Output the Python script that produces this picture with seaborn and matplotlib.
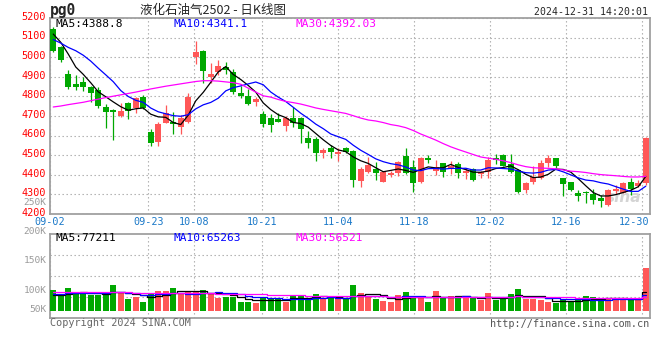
import numpy as np
import pandas as pd
import matplotlib
matplotlib.use("Agg")
import matplotlib.pyplot as plt
import matplotlib.transforms as mtrans
import seaborn as sns

# ---------------- data ----------------
holidays = ["2024-09-16", "2024-09-17", "2024-10-01", "2024-10-02",
            "2024-10-03", "2024-10-04", "2024-10-07"]

open_ = [5144, 5052, 4914, 4863, 4874, 4846, 4833, 4748, 4731, 4700,
         4765, 4743, 4799, 4620, 4569, 4666, 4671, 4646, 4668, 5003,
         5032, 4901, 4923, 4952, 4923, 4819, 4802, 4773, 4710, 4692,
         4683, 4649, 4692, 4692, 4586, 4581, 4513, 4535, 4506, 4535,
         4521, 4370, 4416, 4428, 4365, 4399, 4408, 4496, 4438, 4365,
         4484, 4420, 4459, 4428, 4453, 4411, 4428, 4402, 4416, 4484,
         4501, 4453, 4425, 4323, 4365, 4382, 4462, 4484, 4382, 4362,
         4309, 4314, 4300, 4280, 4246, 4317, 4309, 4362, 4345, 4360]
high = [5152, 5055, 4936, 4909, 4900, 4853, 4846, 4760, 4736, 4765,
        4773, 4795, 4809, 4634, 4671, 4756, 4719, 4705, 4819, 5083,
        5035, 4969, 4986, 4974, 4938, 4853, 4836, 4799, 4727, 4710,
        4714, 4700, 4748, 4697, 4623, 4595, 4538, 4552, 4538, 4544,
        4527, 4442, 4489, 4467, 4421, 4421, 4470, 4535, 4476, 4490,
        4501, 4477, 4462, 4470, 4464, 4436, 4433, 4421, 4493, 4506,
        4506, 4506, 4428, 4362, 4445, 4476, 4501, 4486, 4384, 4365,
        4323, 4319, 4326, 4297, 4326, 4348, 4365, 4382, 4374, 4595]
low = [5025, 4978, 4840, 4833, 4828, 4773, 4743, 4640, 4578, 4697,
       4685, 4717, 4734, 4549, 4549, 4663, 4608, 4608, 4663, 4964,
       4870, 4867, 4909, 4913, 4812, 4790, 4756, 4753, 4646, 4620,
       4668, 4624, 4646, 4561, 4535, 4472, 4484, 4484, 4472, 4513,
       4336, 4336, 4408, 4374, 4362, 4387, 4394, 4404, 4311, 4357,
       4460, 4400, 4391, 4402, 4382, 4377, 4370, 4382, 4385, 4455,
       4447, 4411, 4309, 4309, 4355, 4377, 4440, 4433, 4294, 4319,
       4268, 4255, 4251, 4237, 4241, 4302, 4305, 4297, 4336, 4348]
close = [5030, 4984, 4848, 4850, 4850, 4816, 4753, 4722, 4719, 4727,
         4726, 4790, 4743, 4560, 4659, 4714, 4657, 4692, 4799, 5025,
         4931, 4913, 4957, 4935, 4824, 4802, 4761, 4787, 4659, 4654,
         4671, 4688, 4663, 4632, 4561, 4510, 4527, 4518, 4518, 4518,
         4374, 4430, 4450, 4408, 4416, 4408, 4467, 4411, 4360, 4488,
         4476, 4440, 4416, 4445, 4411, 4421, 4374, 4413, 4476, 4476,
         4447, 4416, 4314, 4360, 4391, 4462, 4486, 4445, 4353, 4323,
         4294, 4305, 4272, 4266, 4323, 4328, 4360, 4328, 4357, 4586]
volume_k = [87, 70, 97, 70, 73, 66, 66, 73, 108, 73,
            49, 59, 38, 76, 84, 84, 97, 70, 77, 77,
            87, 70, 55, 59, 59, 38, 38, 34, 59, 49,
            55, 38, 62, 62, 55, 70, 55, 52, 49, 49,
            108, 76, 62, 49, 41, 38, 66, 80, 56, 56,
            38, 83, 56, 62, 62, 52, 52, 45, 76, 45,
            48, 70, 91, 49, 49, 45, 38, 34, 45, 38,
            45, 62, 56, 52, 52, 52, 52, 49, 52, 181]

# moving-average values at the start of the window (earlier history not shown)
ma5_lead = [5118, 5076, 5016, 4950]
ma10_lead = [5090, 5072, 5050, 5033, 5010, 4980, 4944, 4910, 4875]
ma30_lead = [4746, 4751, 4758, 4764, 4770, 4778, 4786, 4794, 4801, 4808,
             4815, 4822, 4830, 4838, 4845, 4852, 4858, 4864, 4870, 4876,
             4880, 4880, 4878, 4874, 4870, 4862, 4842, 4822, 4803]
vma5_lead = [66, 67, 70, 73]
vma10_lead = [72, 72, 73, 73, 74, 74, 75, 76, 77]
vma30_lead = [80, 80, 79, 79, 79, 78, 78, 78, 77, 77, 77, 76, 76, 76, 75,
              75, 75, 74, 74, 74, 73, 73, 72, 72, 71, 71, 70, 70, 69]

tick_labels = ["09-02", "09-23", "10-08", "10-21", "11-04",
               "11-18", "12-02", "12-16", "12-30"]
price_ticks = list(range(4200, 5201, 100))

# ---------------- prep ----------------
dates = pd.bdate_range("2024-09-02", "2024-12-31")
dates = dates[~dates.isin(pd.to_datetime(holidays))]
mmdd = list(dates.strftime("%m-%d"))

n = len(close)
x = np.arange(n)
O = np.array(open_, float); Hh = np.array(high, float)
L = np.array(low, float); C = np.array(close, float)
V = np.array(volume_k, float) * 1000

RED, GREEN = "#ff5757", "#00a800"
colors = np.where(C >= O, RED, GREEN)

df = pd.DataFrame({"x": x, "close": C, "vol": V})
def ma(series, w, lead):
    m = series.rolling(w).mean().to_numpy()
    m[:len(lead)] = lead
    return m
df["ma5"] = ma(df["close"], 5, ma5_lead)
df["ma10"] = ma(df["close"], 10, ma10_lead)
df["ma30"] = ma(df["close"], 30, ma30_lead)
df["vma5"] = ma(df["vol"], 5, np.array(vma5_lead) * 1000)
df["vma10"] = ma(df["vol"], 10, np.array(vma10_lead) * 1000)
df["vma30"] = ma(df["vol"], 30, np.array(vma30_lead) * 1000)

tick_idx = [mmdd.index(t) for t in tick_labels]
tick_pos = [i * 7.6 / 7.5 - 0.5 for i in tick_idx]

# ---------------- figure ----------------
sns.set_theme(style="white")
plt.rcParams["font.family"] = ["DejaVu Sans Mono", "Noto Sans CJK SC"]

W, H = 660, 360
fig = plt.figure(figsize=(6.6, 3.6), dpi=100, facecolor="white")
def box(l, t, r, b):
    return [l / W, 1 - b / H, (r - l) / W, (b - t) / H]
def ft(xp, yp, s, **kw):
    fig.text(xp / W, 1 - yp / H, s, **kw)

ax = fig.add_axes(box(49.5, 18, 649.9, 214))
axv = fig.add_axes(box(49.5, 234.3, 649.9, 318.3))

GRID = dict(color="#a8a8a8", linestyle=(0, (1.2, 2.4)), linewidth=0.8)
for a in (ax, axv):
    a.set_facecolor("white")
    for s in a.spines.values():
        s.set_color("#a0a0a0"); s.set_linewidth(1.3)
    a.set_axisbelow(True)
    a.tick_params(length=0)
    a.set_xticks(tick_pos)
    a.set_xticklabels([])
    a.grid(True, **GRID)
    a.set_xlim(-0.5, 79.55)

# candles
ax.vlines(x, L, Hh, colors=colors, linewidth=0.9, zorder=3)
body_bottom = np.minimum(O, C)
body_h = np.maximum(np.abs(C - O), 2.5)
ax.bar(x, body_h, bottom=body_bottom, width=0.8, color=colors, linewidth=0, zorder=4)

for col, c in [("ma5", "black"), ("ma10", "#0000ff"), ("ma30", "#ff00ff")]:
    sns.lineplot(data=df, x="x", y=col, color=c, linewidth=0.9, ax=ax, zorder=5)

ax.set_ylim(4200, 5200)
ax.set_yticks(price_ticks)
ax.set_yticklabels([str(p) for p in price_ticks], color="#ff0000", fontsize=7.3)
ax.tick_params(axis="y", pad=2.5)
ax.set_xlabel(""); ax.set_ylabel("")

# x labels (blue)
tr = mtrans.blended_transform_factory(ax.transData, ax.transAxes)
for k, (p, t) in enumerate(zip(tick_pos, tick_labels)):
    if k == len(tick_labels) - 1:
        ax.text(79.5, -8.3 / 196, t, transform=tr, ha="right", va="center",
                color="#1a78c8", fontsize=7.3)
    else:
        ax.text(p, -8.3 / 196, t, transform=tr, ha="center", va="center",
                color="#1a78c8", fontsize=7.3, clip_on=False)

# watermark
ax.text(0.985, 0.085, "sina", transform=ax.transAxes, ha="right", va="center",
        fontsize=11, fontweight="bold", style="italic", color="#d4d4d4",
        family="DejaVu Sans", zorder=1)

# volume
axv.bar(x, df["vol"], width=0.8, color=colors, linewidth=0, zorder=3)
for col, c in [("vma5", "black"), ("vma10", "#0000ff"), ("vma30", "#ff00ff")]:
    sns.lineplot(data=df, x="x", y=col, color=c, linewidth=0.9, ax=axv,
                 zorder=5, drawstyle="steps-mid")
vlo, vhi = -32000, 322000
axv.set_ylim(vlo, vhi)
axv.set_yticks([vlo + (vhi - vlo) * f for f in (0.25, 0.5, 0.75)])
axv.set_yticklabels([])
axv.set_xlabel(""); axv.set_ylabel("")

# price labels sit ~2 px above their gridlines, as in the reference
up_shift = mtrans.ScaledTranslation(0, 2.2 / 100, fig.dpi_scale_trans)
for lbl in ax.get_yticklabels():
    lbl.set_transform(lbl.get_transform() + up_shift)

# ---------------- texts ----------------
ft(50, 11, "pg0", fontsize=10.5, fontweight="bold", va="center", ha="left",
   family="DejaVu Sans Mono")
ft(140, 10, "液化石油气2502 - 日K线图", fontsize=9, va="center", ha="left",
   family=["Noto Sans CJK SC", "DejaVu Sans"])
ft(648, 11.7, "2024-12-31 14:20:01", fontsize=7.1, va="center", ha="right")

ft(55, 23.7, "MA5:4388.8", fontsize=8, va="center", color="black")
ft(174, 23.7, "MA10:4341.1", fontsize=8, va="center", color="#0000ff")
ft(295, 23.7, "MA30:4392.03", fontsize=8, va="center", color="#ff00ff")

ft(55, 238.3, "MA5:77211", fontsize=8, va="center", color="black")
ft(174, 238.3, "MA10:65263", fontsize=8, va="center", color="#0000ff")
ft(295, 238.3, "MA30:56521", fontsize=8, va="center", color="#ff00ff")

for lab, yp in [("250K", 202.6), ("200K", 231.0), ("150K", 260.7),
                ("100K", 290.7), ("50K", 310)]:
    ft(46.7, yp, lab, fontsize=6.8, va="center", ha="right", color="#9a9a9a")

ft(50, 323.5, "Copyright 2024 SINA.COM", fontsize=7.3, va="center", ha="left",
   color="#666666")
ft(649, 323.7, "http://finance.sina.com.cn", fontsize=7.3, va="center",
   ha="right", color="#555555")

fig.savefig("out.png", dpi=100, facecolor="white")
